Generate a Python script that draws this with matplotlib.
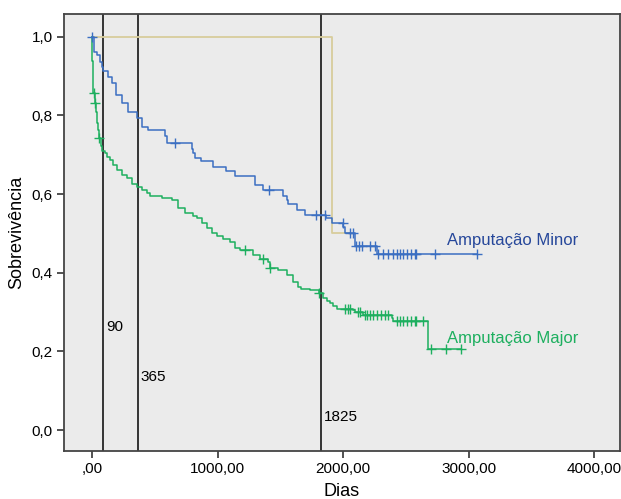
import numpy as np
import matplotlib.pyplot as plt

plt.rcParams['font.family'] = ['Liberation Sans', 'DejaVu Sans']

## Dados
# Amputação Minor: tempos dos óbitos e sobrevivência após cada degrau
minor_t = [0, 16, 42, 64, 77, 90, 130, 157, 189, 241, 289, 356, 401, 443, 581, 594,
           799, 807, 820, 868, 961, 1067, 1139, 1298, 1364, 1523, 1550, 1563, 1630,
           1696, 1868, 1908, 2000, 2014, 2094, 2267]
minor_s = [1.0, 0.962, 0.954, 0.937, 0.923, 0.912, 0.899, 0.882, 0.852, 0.831, 0.808,
           0.793, 0.772, 0.763, 0.747, 0.730, 0.716, 0.704, 0.691, 0.683, 0.670, 0.658,
           0.645, 0.623, 0.611, 0.594, 0.585, 0.575, 0.560, 0.548, 0.538, 0.526, 0.517,
           0.502, 0.468, 0.448]
minor_cens = [0, 661, 1412, 1783, 1855, 1996, 2054, 2081, 2107, 2129, 2147, 2213, 2253,
              2280, 2320, 2360, 2399, 2426, 2452, 2479, 2506, 2545, 2572, 2585, 2731, 3063]

# Amputação Major
major_t = [0, 1, 3, 5, 8, 11, 22, 30, 40, 50, 55, 70, 82, 104, 117, 143, 170, 196, 236,
           276, 316, 356, 396, 435, 462, 555, 634, 687, 740, 807, 833, 873, 913, 953,
           993, 1045, 1099, 1139, 1180, 1285, 1340, 1404, 1422, 1484, 1550, 1603, 1643,
           1669, 1736, 1811, 1842, 1869, 1895, 1921, 1948, 2081, 2094, 2160, 2386, 2399,
           2678]
major_s = [1.0, 0.970, 0.939, 0.909, 0.878, 0.856, 0.833, 0.808, 0.782, 0.762, 0.742,
           0.722, 0.710, 0.705, 0.695, 0.687, 0.674, 0.662, 0.649, 0.640, 0.627, 0.619,
           0.611, 0.602, 0.594, 0.589, 0.585, 0.564, 0.551, 0.544, 0.538, 0.526, 0.513,
           0.501, 0.494, 0.486, 0.479, 0.462, 0.458, 0.445, 0.434, 0.428, 0.412, 0.408,
           0.394, 0.377, 0.365, 0.358, 0.356, 0.348, 0.335, 0.327, 0.322, 0.315, 0.307,
           0.305, 0.301, 0.293, 0.284, 0.276, 0.205]
major_cens = [16, 24, 60, 1218, 1364, 1422, 1811, 2014, 2041, 2054, 2120, 2134, 2174,
              2187, 2213, 2240, 2267, 2306, 2333, 2359, 2426, 2452, 2479, 2506, 2545,
              2572, 2585, 2638, 2704, 2818, 2943]

# terceiro grupo (linha bege, sem rótulo)
outro_t = [0, 1911]
outro_s = [1.0, 0.5]
outro_fim = 2054

marcos = [90, 365, 1825]
marcos_y = [0.262, 0.135, 0.033]

xticks = [0, 1000, 2000, 3000, 4000]
xticklabels = [',00', '1000,00', '2000,00', '3000,00', '4000,00']
yticks = [0.0, 0.2, 0.4, 0.6, 0.8, 1.0]
yticklabels = ['0,0', '0,2', '0,4', '0,6', '0,8', '1,0']

c_minor = '#3b6fc2'
c_major = '#1daf5f'
c_outro = '#d8cd9c'


def curva(t, s, fim):
    # acrescenta o ponto final para o degrau horizontal
    return np.append(t, fim), np.append(s, s[-1])


def s_em(t, s, tc):
    idx = np.searchsorted(t, tc, side='right') - 1
    return np.array(s)[idx]


fig = plt.figure(figsize=(6.21, 4.99), dpi=100)
ax = fig.add_axes([0.103, 0.0962, 0.895, 0.876])
ax.set_facecolor('#ebebeb')

# linhas verticais
for m in marcos:
    ax.axvline(m, color='#333333', lw=1.4, zorder=1)
for m, yy in zip(marcos, marcos_y):
    ax.text(m + 25, yy, str(m), fontsize=11, va='center', ha='left')

x, y = curva(outro_t, outro_s, outro_fim)
ax.step(x, y, where='post', color=c_outro, lw=1.3, zorder=2)

x, y = curva(minor_t, minor_s, max(minor_cens))
ax.step(x, y, where='post', color=c_minor, lw=1.1, zorder=3)
ax.plot(minor_cens, s_em(minor_t, minor_s, minor_cens), '+', color=c_minor,
        ms=7, mew=1.0, zorder=4)

x, y = curva(major_t, major_s, max(major_cens))
ax.step(x, y, where='post', color=c_major, lw=1.1, zorder=3)
ax.plot(major_cens, s_em(major_t, major_s, major_cens), '+', color=c_major,
        ms=7, mew=1.0, zorder=4)

ax.text(2826, 0.481, 'Amputação Minor', color='#26479a', fontsize=12, va='center')
ax.text(2826, 0.234, 'Amputação Major', color=c_major, fontsize=12, va='center')

ax.set_xlim(-223, 4204)
ax.set_ylim(-0.0534, 1.0585)
ax.set_xticks(xticks)
ax.set_xticklabels(xticklabels)
ax.set_yticks(yticks)
ax.set_yticklabels(yticklabels)
ax.tick_params(labelsize=11, length=5, width=1.2, color='#333333', pad=3)
for sp in ax.spines.values():
    sp.set_color('#444444')
    sp.set_linewidth(1.3)

ax.set_xlabel('Dias', fontsize=13, labelpad=5)
ax.set_ylabel('Sobrevivência', fontsize=13, labelpad=5)

plt.savefig('out.png', dpi=100)
